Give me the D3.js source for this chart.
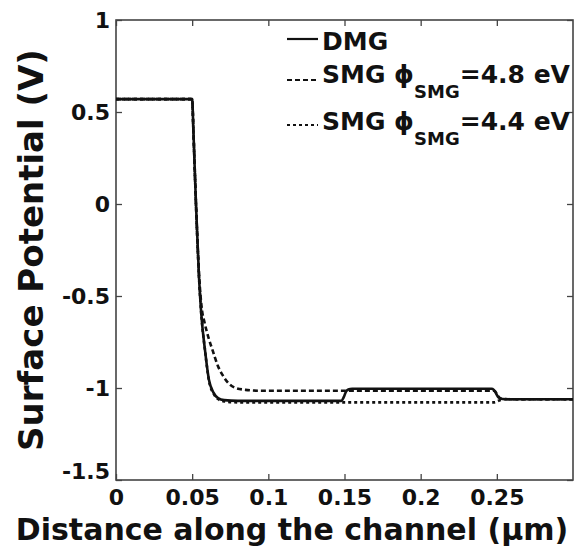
<!DOCTYPE html>
<html lang="en">
<head>
<meta charset="utf-8">
<title>Surface potential</title>
<script src="https://d3js.org/d3.v7.min.js"></script>
<style>
  body { margin: 0; background: #fff; }
  text { font-family: "DejaVu Sans", sans-serif; font-weight: bold; fill: #111; }
</style>
</head>
<body>
<script>
// tick values + labels
const xTicks = [0, 0.05, 0.1, 0.15, 0.2, 0.25];
const xTickLabels = ["0", "0.05", "0.1", "0.15", "0.2", "0.25"];
const yTicks = [-1.5, -1, -0.5, 0, 0.5, 1];
const yTickLabels = ["-1.5", "-1", "-0.5", "0", "0.5", "1"];

// DMG (solid)
const dmgX = [0, 0.05, 0.0508, 0.0525, 0.0545, 0.056, 0.0585, 0.061, 0.064, 0.067, 0.071, 0.08, 0.12, 0.148, 0.1495, 0.151, 0.1525, 0.155, 0.2, 0.2465, 0.248, 0.2495, 0.251, 0.2535, 0.26, 0.3];
const dmgY = [0.57, 0.57, 0.40, 0.0, -0.40, -0.60, -0.80, -0.955, -1.025, -1.055, -1.066, -1.07, -1.07, -1.07, -1.05, -1.02, -1.008, -1.004, -1.004, -1.004, -1.01, -1.03, -1.05, -1.06, -1.061, -1.061];

// SMG phi = 4.8 eV (dashed)
const smg48X = [0, 0.05, 0.0508, 0.0525, 0.0545, 0.0565, 0.058, 0.0605, 0.0636, 0.0669, 0.070, 0.074, 0.078, 0.085, 0.095, 0.2485, 0.2505, 0.253, 0.26, 0.3];
const smg48Y = [0.57, 0.57, 0.40, 0.0, -0.38, -0.58, -0.64, -0.72, -0.80, -0.88, -0.93, -0.975, -0.998, -1.01, -1.015, -1.015, -1.04, -1.058, -1.061, -1.061];

// SMG phi = 4.4 eV (dotted)
const smg44X = [0, 0.05, 0.0508, 0.0525, 0.0545, 0.056, 0.0585, 0.061, 0.064, 0.067, 0.071, 0.08, 0.2485, 0.2515, 0.255, 0.26, 0.3];
const smg44Y = [0.57, 0.57, 0.40, 0.0, -0.40, -0.60, -0.80, -0.96, -1.03, -1.06, -1.073, -1.078, -1.078, -1.068, -1.061, -1.061, -1.061];

const W = 587, H = 550;
const margin = {top: 20, right: 14, bottom: 70, left: 116};
const width = W - margin.left - margin.right,
      height = H - margin.top - margin.bottom;

const svg = d3.select("body").append("svg")
    .attr("width", W)
    .attr("height", H);

const g = svg.append("g")
    .attr("transform", "translate(" + margin.left + "," + margin.top + ")");

const xScale = d3.scaleLinear().domain([0, 0.3]).range([0, width]);
const yScale = d3.scaleLinear().domain([-1.5, 1]).range([height, 0]);

// axes, ticks pointing inward
const axisColor = "#444";
function styleAxis(sel) {
  sel.select(".domain").remove();
  sel.selectAll(".tick line").attr("stroke", axisColor).attr("stroke-width", 1.3);
  sel.selectAll(".tick text").style("font-size", "22px").attr("fill", "#111");
}

g.append("g")
  .attr("transform", "translate(0," + height + ")")
  .call(d3.axisBottom(xScale).tickValues(xTicks)
        .tickFormat((d, i) => xTickLabels[i]).tickSizeInner(-6).tickSizeOuter(0).tickPadding(9))
  .call(styleAxis);

const yAxisG = g.append("g")
  .call(d3.axisLeft(yScale).tickValues(yTicks)
        .tickFormat((d, i) => yTickLabels[i]).tickSizeInner(-6).tickSizeOuter(0).tickPadding(6))
  .call(styleAxis);
// bottom label sits a bit higher, clear of the x "0"
yAxisG.selectAll(".tick text").filter(d => d === -1.5).attr("dy", "-0.05em");

g.append("g")
  .call(d3.axisTop(xScale).tickValues(xTicks).tickFormat("").tickSizeInner(-6).tickSizeOuter(0))
  .call(styleAxis);

g.append("g")
  .attr("transform", "translate(" + width + ",0)")
  .call(d3.axisRight(yScale).tickValues(yTicks).tickFormat("").tickSizeInner(-6).tickSizeOuter(0))
  .call(styleAxis);

// box
g.append("rect")
  .attr("width", width).attr("height", height)
  .attr("fill", "none").attr("stroke", axisColor).attr("stroke-width", 1.6);

// clip
g.append("clipPath").attr("id", "clip")
  .append("rect").attr("width", width).attr("height", height);

const line = d3.line()
  .x(d => xScale(d[0]))
  .y(d => yScale(d[1]))
  .curve(d3.curveMonotoneX);

const series = [
  {xs: dmgX, ys: dmgY, dash: null},
  {xs: smg48X, ys: smg48Y, dash: "5,3"},
  {xs: smg44X, ys: smg44Y, dash: "3,3"}
];

g.append("g").attr("clip-path", "url(#clip)")
  .selectAll("path")
  .data(series)
  .enter().append("path")
  .attr("d", s => line(s.xs.map((x, i) => [x, s.ys[i]])))
  .attr("fill", "none")
  .attr("stroke", "#111")
  .attr("stroke-width", 2.6)
  .attr("stroke-dasharray", s => s.dash);

// axis labels
svg.append("text")
  .attr("x", 292)
  .attr("y", 540)
  .attr("text-anchor", "middle")
  .style("font-size", "30px")
  .text("Distance along the channel (\u03bcm)");

svg.append("text")
  .attr("transform", "translate(43,250) rotate(-90)")
  .attr("text-anchor", "middle")
  .style("font-size", "34px")
  .text("Surface Potential (V)");

// legend
const legendItems = [
  {dash: null, y: 39, ty: 50, main: "DMG", sub: null, rest: null},
  {dash: "5,3", y: 80, ty: 83, main: "SMG \u03d5", sub: "SMG", rest: "=4.8 eV"},
  {dash: "3,3", y: 125, ty: 130, main: "SMG \u03d5", sub: "SMG", rest: "=4.4 eV"}
];

legendItems.forEach(it => {
  svg.append("line")
    .attr("x1", 287).attr("x2", 318)
    .attr("y1", it.y).attr("y2", it.y)
    .attr("stroke", "#111").attr("stroke-width", 2.2)
    .attr("stroke-dasharray", it.dash);
  const t = svg.append("text")
    .attr("x", 322).attr("y", it.ty)
    .style("font-size", "25px");
  t.append("tspan").text(it.main);
  if (it.sub) {
    t.append("tspan").attr("dy", 15).style("font-size", "18px").text(it.sub);
    t.append("tspan").attr("dy", -15).text(it.rest);
  }
});
</script>
</body>
</html>
